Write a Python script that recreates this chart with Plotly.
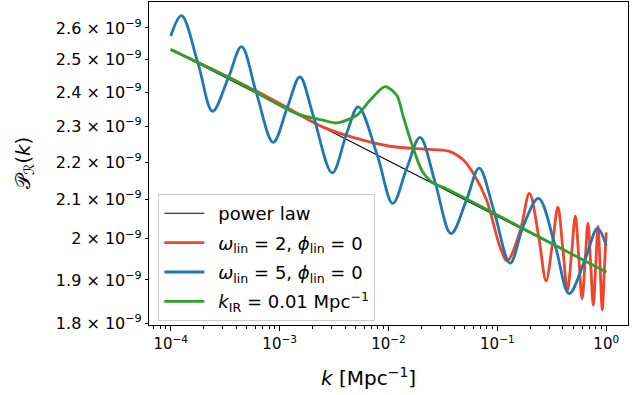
import plotly.graph_objects as go

SCALE = 1e-9  # values below are in units of 1e-9

# power law (straight line on log-log axes)
k_pl = [1e-4, 1.0]
P_pl = [2.531, 1.919]

# omega_lin = 2, phi_lin = 0
k_red = [1e-4, 4e-4, 1e-3, 2.51e-3, 5.1e-3, 1.03e-2, 2.41e-2, 3.68e-2, 4.87e-2, 6.02e-2,
         8.0e-2, 0.106, 0.123, 0.162, 0.197, 0.24, 0.28, 0.32, 0.36, 0.40, 0.44, 0.48,
         0.52, 0.56, 0.60, 0.64, 0.68, 0.72, 0.76, 0.80, 0.84, 0.88, 0.92, 0.96, 1.0]
P_red = [2.531, 2.434, 2.367, 2.298, 2.266, 2.244, 2.235, 2.229, 2.206, 2.169,
         2.097, 1.979, 1.946, 2.020, 2.116, 2.004, 1.898, 1.986, 2.080, 1.973, 1.875, 1.962,
         2.057, 1.953, 1.856, 1.945, 2.039, 1.938, 1.841, 1.932, 2.031, 1.927, 1.830, 1.922, 2.016]

# omega_lin = 5, phi_lin = 0
k_blue = [1.0e-4, 1.254e-4, 1.782e-4, 2.417e-4, 3.364e-4, 4.468e-4, 6.137e-4, 8.722e-4,
          1.183e-3, 1.535e-3, 2.034e-3, 3.042e-3, 4.153e-3, 5.277e-3, 7.889e-3, 1.093e-2,
          1.470e-2, 1.949e-2, 2.677e-2, 3.756e-2, 5.236e-2, 6.795e-2, 9.335e-2, 0.1310,
          0.1736, 0.2384, 0.3396, 0.4567, 0.6410, 0.8318, 1.0]
P_blue = [2.574, 2.640, 2.487, 2.344, 2.442, 2.540, 2.396, 2.255,
          2.357, 2.446, 2.332, 2.171, 2.283, 2.357, 2.219, 2.090,
          2.183, 2.269, 2.146, 2.013, 2.101, 2.184, 2.069, 1.940,
          2.033, 2.103, 1.983, 1.868, 1.950, 2.026, 1.983]

# k_IR = 0.01 Mpc^-1
k_green = [1e-4, 4e-4, 1.43e-3, 2.51e-3, 3.34e-3, 5.1e-3, 6.76e-3, 9.3e-3, 0.0119, 0.0137,
           0.0163, 0.0202, 0.025, 0.0343, 0.0562, 0.1, 0.2, 1.0]
P_green = [2.531, 2.432, 2.337, 2.318, 2.310, 2.332, 2.376, 2.417, 2.391, 2.327,
           2.252, 2.178, 2.146, 2.128, 2.097, 2.060, 2.016, 1.919]

x_tickvals = [1e-4, 1e-3, 1e-2, 1e-1, 1.0]
x_ticktext = ["10<sup>−4</sup>", "10<sup>−3</sup>", "10<sup>−2</sup>", "10<sup>−1</sup>", "10<sup>0</sup>"]
y_tickvals = [1.8, 1.9, 2.0, 2.1, 2.2, 2.3, 2.4, 2.5, 2.6]
y_ticktext = ["1.8 × 10<sup>−9</sup>", "1.9 × 10<sup>−9</sup>", "2 × 10<sup>−9</sup>",
              "2.1 × 10<sup>−9</sup>", "2.2 × 10<sup>−9</sup>", "2.3 × 10<sup>−9</sup>",
              "2.4 × 10<sup>−9</sup>", "2.5 × 10<sup>−9</sup>", "2.6 × 10<sup>−9</sup>"]
x_minor = [m * 10.0 ** e for e in range(-5, 1) for m in range(2, 10)]

FONT = "DejaVu Sans"
SP = "\u2002"
fig = go.Figure()

def sc(vals):
    return [v * SCALE for v in vals]

fig.add_trace(go.Scatter(x=k_pl, y=sc(P_pl), mode="lines", name=SP + "power law",
                         line=dict(color="black", width=1.1), legendgroup="a"))
fig.add_trace(go.Scatter(x=k_red, y=sc(P_red), mode="lines",
                         name=SP + "<i>ω</i><sub>lin</sub> = 2, <i>ϕ</i><sub>lin</sub> = 0",
                         line=dict(color="#f0452a", width=2.8, shape="spline", smoothing=1.0),
                         legendgroup="b"))
fig.add_trace(go.Scatter(x=k_blue, y=sc(P_blue), mode="lines",
                         name=SP + "<i>ω</i><sub>lin</sub> = 5, <i>ϕ</i><sub>lin</sub> = 0",
                         line=dict(color="#1f77b4", width=2.8, shape="spline", smoothing=1.0),
                         legendgroup="c"))
fig.add_trace(go.Scatter(x=k_green, y=sc(P_green), mode="lines",
                         name=SP + "<i>k</i><sub>IR</sub> = 0.01 Mpc<sup>−1</sup>",
                         line=dict(color="#2ca02c", width=2.8, shape="spline", smoothing=0.8),
                         legendgroup="d"))

axis_common = dict(showline=True, linecolor="black", linewidth=1.1, mirror=True,
                   ticks="outside", tickcolor="black", tickwidth=1.1, showgrid=False,
                   zeroline=False)

fig.update_xaxes(type="log", range=[-4.2, 0.2], tickvals=x_tickvals, ticktext=x_ticktext,
                 ticklen=5, tickfont=dict(family=FONT, size=15, color="black"),
                 minor=dict(ticks="outside", ticklen=3, tickwidth=0.9, tickcolor="black",
                            tickvals=x_minor, showgrid=False),
                 **axis_common)
fig.update_yaxes(type="log", range=[-8.7456, -8.5710], tickvals=sc(y_tickvals),
                 ticktext=y_ticktext, ticklen=3,
                 tickfont=dict(family=FONT, size=16, color="black"), **axis_common)

fig.update_layout(
    width=644, height=395,
    margin=dict(l=149, r=16, t=2, b=70, autoexpand=False),
    paper_bgcolor="white", plot_bgcolor="white",
    font=dict(family=FONT, color="black"),
    showlegend=True,
    legend=dict(x=0.0194, y=0.4056, xanchor="left", yanchor="top",
                bgcolor="rgba(255,255,255,0.8)", bordercolor="#cccccc", borderwidth=1,
                font=dict(family=FONT, size=18, color="black"),
                tracegroupgap=3, itemwidth=40),
    annotations=[
        dict(text="<i>k</i> [Mpc<sup>−1</sup>]", xref="paper", yref="paper",
             x=0.459, y=-0.16, xanchor="center", yanchor="middle", showarrow=False,
             font=dict(family=FONT, size=20, color="black")),
        dict(text="𝒫<sub>ℛ</sub>(<i>k</i>)", xref="paper", yref="paper",
             x=-0.262, y=0.5, xanchor="center", yanchor="middle", textangle=-90,
             showarrow=False, font=dict(family=FONT, size=20, color="black")),
    ],
)

fig.write_html("out.html", config={"displayModeBar": False},
               post_script="document.body.style.margin='0px';")
